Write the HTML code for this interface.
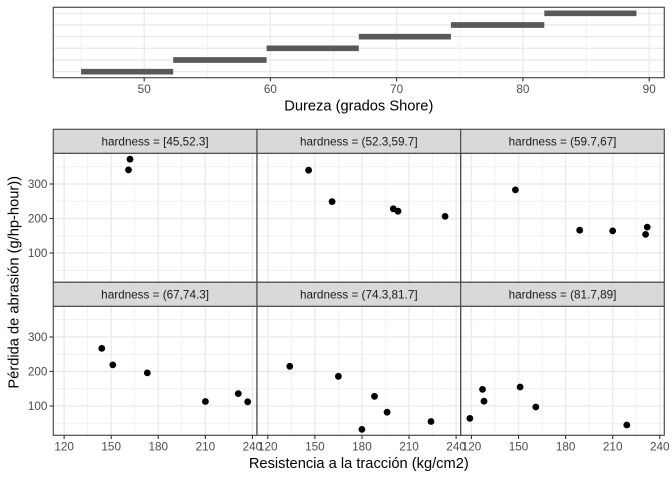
<!DOCTYPE html>
<html>
<head>
<meta charset="utf-8">
<style>
html,body{margin:0;padding:0;background:#fff;}
svg{display:block;font-family:"Liberation Sans",Arial,sans-serif;}
</style>
</head>
<body>
<svg width="672" height="480" viewBox="0 0 672 480" xmlns="http://www.w3.org/2000/svg">
<rect width="672" height="480" fill="#fff"/>

<!-- ===== TOP PANEL ===== -->
<g>
  <rect x="53.3" y="7.3" width="611" height="70.4" fill="#fff"/>
  <!-- minor vertical -->
  <g stroke="#EBEBEB" stroke-width="0.7">
    <line x1="81.1" y1="7.3" x2="81.1" y2="77.7"/>
    <line x1="207.3" y1="7.3" x2="207.3" y2="77.7"/>
    <line x1="333.5" y1="7.3" x2="333.5" y2="77.7"/>
    <line x1="459.8" y1="7.3" x2="459.8" y2="77.7"/>
    <line x1="586.0" y1="7.3" x2="586.0" y2="77.7"/>
  </g>
  <g stroke="#EBEBEB" stroke-width="1.4">
    <line x1="144.2" y1="7.3" x2="144.2" y2="77.7"/>
    <line x1="270.4" y1="7.3" x2="270.4" y2="77.7"/>
    <line x1="396.6" y1="7.3" x2="396.6" y2="77.7"/>
    <line x1="522.9" y1="7.3" x2="522.9" y2="77.7"/>
    <line x1="649.2" y1="7.3" x2="649.2" y2="77.7"/>
    <line x1="53.3" y1="71.7" x2="664.3" y2="71.7"/>
    <line x1="53.3" y1="60.0" x2="664.3" y2="60.0"/>
    <line x1="53.3" y1="48.3" x2="664.3" y2="48.3"/>
    <line x1="53.3" y1="36.7" x2="664.3" y2="36.7"/>
    <line x1="53.3" y1="25.0" x2="664.3" y2="25.0"/>
    <line x1="53.3" y1="13.3" x2="664.3" y2="13.3"/>
  </g>
  <!-- bars -->
  <g stroke="#595959" stroke-width="5.7">
    <line x1="81.1" y1="71.7" x2="173.2" y2="71.7"/>
    <line x1="173.2" y1="60.0" x2="266.6" y2="60.0"/>
    <line x1="266.6" y1="48.3" x2="358.8" y2="48.3"/>
    <line x1="358.8" y1="36.7" x2="450.9" y2="36.7"/>
    <line x1="450.9" y1="25.0" x2="544.3" y2="25.0"/>
    <line x1="544.3" y1="13.3" x2="636.5" y2="13.3"/>
  </g>
  <rect x="53.3" y="7.3" width="611" height="70.4" fill="none" stroke="#4D4D4D" stroke-width="1.2"/>
  <!-- ticks -->
  <g stroke="#333" stroke-width="1.1">
    <line x1="144.2" y1="77.7" x2="144.2" y2="81.4"/>
    <line x1="270.4" y1="77.7" x2="270.4" y2="81.4"/>
    <line x1="396.6" y1="77.7" x2="396.6" y2="81.4"/>
    <line x1="522.9" y1="77.7" x2="522.9" y2="81.4"/>
    <line x1="649.2" y1="77.7" x2="649.2" y2="81.4"/>
  </g>
  <g fill="#4D4D4D" font-size="11.73" text-anchor="middle">
    <text x="144.2" y="93.2">50</text>
    <text x="270.4" y="93.2">60</text>
    <text x="396.6" y="93.2">70</text>
    <text x="522.9" y="93.2">80</text>
    <text x="649.2" y="93.2">90</text>
  </g>
  <text x="358.8" y="110.3" font-size="14.67" text-anchor="middle" fill="#000">Dureza (grados Shore)</text>
</g>

<!-- ===== FACET PANELS ===== -->
<defs>
  <g id="grid">
    <rect x="0" y="0" width="203.67" height="129" fill="#fff"/>
    <g stroke="#EBEBEB" stroke-width="0.7">
      <line x1="34.36" y1="0" x2="34.36" y2="129"/>
      <line x1="81.44" y1="0" x2="81.44" y2="129"/>
      <line x1="128.51" y1="0" x2="128.51" y2="129"/>
      <line x1="175.58" y1="0" x2="175.58" y2="129"/>
      <line x1="0" y1="116.93" x2="203.67" y2="116.93"/>
      <line x1="0" y1="82.44" x2="203.67" y2="82.44"/>
      <line x1="0" y1="47.94" x2="203.67" y2="47.94"/>
      <line x1="0" y1="13.45" x2="203.67" y2="13.45"/>
    </g>
    <g stroke="#EBEBEB" stroke-width="1.4">
      <line x1="10.83" y1="0" x2="10.83" y2="129"/>
      <line x1="57.90" y1="0" x2="57.90" y2="129"/>
      <line x1="104.97" y1="0" x2="104.97" y2="129"/>
      <line x1="152.05" y1="0" x2="152.05" y2="129"/>
      <line x1="199.12" y1="0" x2="199.12" y2="129"/>
      <line x1="0" y1="99.68" x2="203.67" y2="99.68"/>
      <line x1="0" y1="65.19" x2="203.67" y2="65.19"/>
      <line x1="0" y1="30.70" x2="203.67" y2="30.70"/>
    </g>
  </g>
</defs>

<!-- panel backgrounds + grids -->
<use href="#grid" x="53.3" y="153.3"/>
<use href="#grid" x="256.97" y="153.3"/>
<use href="#grid" x="460.64" y="153.3"/>
<use href="#grid" x="53.3" y="306.3"/>
<use href="#grid" x="256.97" y="306.3"/>
<use href="#grid" x="460.64" y="306.3"/>

<!-- points -->
<g fill="#000">
  <!-- panel 1 -->
  <circle cx="130.0" cy="159.2" r="3.4"/>
  <circle cx="128.5" cy="169.9" r="3.4"/>
  <!-- panel 2 -->
  <circle cx="445.1" cy="216.4" r="3.4"/>
  <circle cx="398.0" cy="211.2" r="3.4"/>
  <circle cx="393.3" cy="208.8" r="3.4"/>
  <circle cx="332.1" cy="201.6" r="3.4"/>
  <circle cx="308.6" cy="170.2" r="3.4"/>
  <!-- panel 3 -->
  <circle cx="647.2" cy="227.1" r="3.4"/>
  <circle cx="645.6" cy="234.4" r="3.4"/>
  <circle cx="579.7" cy="230.2" r="3.4"/>
  <circle cx="612.7" cy="230.9" r="3.4"/>
  <circle cx="515.4" cy="189.9" r="3.4"/>
  <!-- panel 4 -->
  <circle cx="238.3" cy="393.6" r="3.4"/>
  <circle cx="247.7" cy="401.8" r="3.4"/>
  <circle cx="205.4" cy="401.5" r="3.4"/>
  <circle cx="147.3" cy="372.9" r="3.4"/>
  <circle cx="112.8" cy="364.9" r="3.4"/>
  <circle cx="101.8" cy="348.4" r="3.4"/>
  <!-- panel 5 -->
  <circle cx="431.0" cy="421.5" r="3.4"/>
  <circle cx="387.1" cy="412.2" r="3.4"/>
  <circle cx="361.9" cy="429.4" r="3.4"/>
  <circle cx="374.5" cy="396.3" r="3.4"/>
  <circle cx="338.4" cy="376.3" r="3.4"/>
  <circle cx="289.8" cy="366.3" r="3.4"/>
  <!-- panel 6 -->
  <circle cx="626.8" cy="425.0" r="3.4"/>
  <circle cx="535.8" cy="407.0" r="3.4"/>
  <circle cx="469.9" cy="418.4" r="3.4"/>
  <circle cx="520.1" cy="387.0" r="3.4"/>
  <circle cx="484.0" cy="401.2" r="3.4"/>
  <circle cx="482.5" cy="389.4" r="3.4"/>
</g>

<!-- panel borders -->
<g fill="none" stroke="#4D4D4D" stroke-width="1.2">
  <rect x="53.3" y="153.3" width="203.67" height="129"/>
  <rect x="256.97" y="153.3" width="203.67" height="129"/>
  <rect x="460.64" y="153.3" width="203.67" height="129"/>
  <rect x="53.3" y="306.3" width="203.67" height="129"/>
  <rect x="256.97" y="306.3" width="203.67" height="129"/>
  <rect x="460.64" y="306.3" width="203.67" height="129"/>
</g>

<!-- strips -->
<g fill="#D9D9D9" stroke="#4D4D4D" stroke-width="1.2">
  <rect x="53.3" y="129.3" width="203.67" height="24"/>
  <rect x="256.97" y="129.3" width="203.67" height="24"/>
  <rect x="460.64" y="129.3" width="203.67" height="24"/>
  <rect x="53.3" y="282.3" width="203.67" height="24"/>
  <rect x="256.97" y="282.3" width="203.67" height="24"/>
  <rect x="460.64" y="282.3" width="203.67" height="24"/>
</g>
<g fill="#1A1A1A" font-size="11.73" text-anchor="middle">
  <text x="155.1" y="145.6">hardness = [45,52.3]</text>
  <text x="358.8" y="145.6">hardness = (52.3,59.7]</text>
  <text x="562.5" y="145.6">hardness = (59.7,67]</text>
  <text x="155.1" y="298.6">hardness = (67,74.3]</text>
  <text x="358.8" y="298.6">hardness = (74.3,81.7]</text>
  <text x="562.5" y="298.6">hardness = (81.7,89]</text>
</g>

<!-- y axis ticks & labels -->
<g stroke="#333" stroke-width="1.1">
  <line x1="49.6" y1="252.98" x2="53.3" y2="252.98"/>
  <line x1="49.6" y1="218.49" x2="53.3" y2="218.49"/>
  <line x1="49.6" y1="184.0" x2="53.3" y2="184.0"/>
  <line x1="49.6" y1="405.98" x2="53.3" y2="405.98"/>
  <line x1="49.6" y1="371.49" x2="53.3" y2="371.49"/>
  <line x1="49.6" y1="337.0" x2="53.3" y2="337.0"/>
</g>
<g fill="#4D4D4D" font-size="11.73" text-anchor="end">
  <text x="47.4" y="257.2">100</text>
  <text x="47.4" y="222.7">200</text>
  <text x="47.4" y="188.2">300</text>
  <text x="47.4" y="410.2">100</text>
  <text x="47.4" y="375.7">200</text>
  <text x="47.4" y="341.2">300</text>
</g>
<text transform="translate(18.6,282.3) rotate(-90)" font-size="14.67" text-anchor="middle" fill="#000">Pérdida de abrasión (g/hp-hour))</text>

<!-- x axis ticks & labels -->
<g stroke="#333" stroke-width="1.1">
  <line x1="64.13" y1="435.3" x2="64.13" y2="439"/>
  <line x1="111.2" y1="435.3" x2="111.2" y2="439"/>
  <line x1="158.27" y1="435.3" x2="158.27" y2="439"/>
  <line x1="205.35" y1="435.3" x2="205.35" y2="439"/>
  <line x1="252.42" y1="435.3" x2="252.42" y2="439"/>
  <line x1="267.8" y1="435.3" x2="267.8" y2="439"/>
  <line x1="314.87" y1="435.3" x2="314.87" y2="439"/>
  <line x1="361.94" y1="435.3" x2="361.94" y2="439"/>
  <line x1="409.02" y1="435.3" x2="409.02" y2="439"/>
  <line x1="456.09" y1="435.3" x2="456.09" y2="439"/>
  <line x1="471.47" y1="435.3" x2="471.47" y2="439"/>
  <line x1="518.54" y1="435.3" x2="518.54" y2="439"/>
  <line x1="565.61" y1="435.3" x2="565.61" y2="439"/>
  <line x1="612.69" y1="435.3" x2="612.69" y2="439"/>
  <line x1="659.76" y1="435.3" x2="659.76" y2="439"/>
</g>
<g fill="#4D4D4D" font-size="11.73" text-anchor="middle">
  <text x="64.13" y="450.3">120</text>
  <text x="111.2" y="450.3">150</text>
  <text x="158.27" y="450.3">180</text>
  <text x="205.35" y="450.3">210</text>
  <text x="252.42" y="450.3">240</text>
  <text x="267.8" y="450.3">120</text>
  <text x="314.87" y="450.3">150</text>
  <text x="361.94" y="450.3">180</text>
  <text x="409.02" y="450.3">210</text>
  <text x="456.09" y="450.3">240</text>
  <text x="471.47" y="450.3">120</text>
  <text x="518.54" y="450.3">150</text>
  <text x="565.61" y="450.3">180</text>
  <text x="612.69" y="450.3">210</text>
  <text x="659.76" y="450.3">240</text>
</g>
<text x="358.8" y="467.8" font-size="14.67" text-anchor="middle" fill="#000">Resistencia a la tracción (kg/cm2)</text>
</svg>
</body>
</html>
